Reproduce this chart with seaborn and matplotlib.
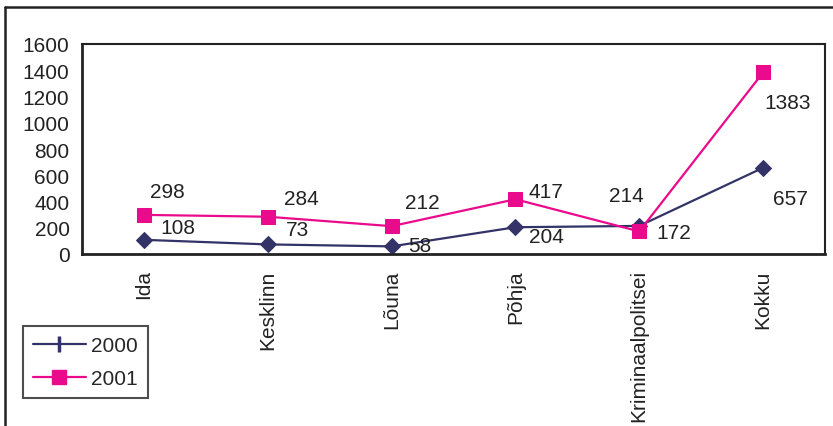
import pandas as pd
import matplotlib.pyplot as plt
import matplotlib.lines as mlines
import seaborn as sns

# Data
categories = ["Ida", "Kesklinn", "Lõuna", "Põhja", "Kriminaalpolitsei", "Kokku"]
values_2000 = [108, 73, 58, 204, 214, 657]
values_2001 = [298, 284, 212, 417, 172, 1383]
y_ticks = [0, 200, 400, 600, 800, 1000, 1200, 1400, 1600]

# label offsets in pixels (dx, dy), y up
offsets_2000 = [(34, 12), (30, 15), (28, 1), (31, -9), (-13, 30), (27, -31)]
offsets_2001 = [(23, 23), (34, 18), (31, 24), (31, 8), (35, -1), (25, -30)]

navy = "#333368"
magenta = "#EA0A8C"
fs = 15

sns.set_style("white")
plt.rcParams["font.family"] = ["Liberation Sans", "DejaVu Sans"]

df = pd.DataFrame({
    "kategooria": categories * 2,
    "vaartus": values_2000 + values_2001,
    "aasta": ["2000"] * len(categories) + ["2001"] * len(categories),
})

fig = plt.figure(figsize=(8.33, 4.27), dpi=100)
ax = fig.add_axes([82 / 833, 1 - 255 / 427, (825 - 82) / 833, (255 - 45) / 427])

sns.lineplot(data=df[df["aasta"] == "2000"], x="kategooria", y="vaartus", ax=ax,
             color=navy, linewidth=1.6, marker="D", markersize=8.5,
             markeredgecolor=navy, sort=False)
sns.lineplot(data=df[df["aasta"] == "2001"], x="kategooria", y="vaartus", ax=ax,
             color=magenta, linewidth=1.6, marker="s", markersize=10.5,
             markeredgecolor=magenta, sort=False)

for i, v in enumerate(values_2000):
    ax.annotate(str(v), (i, v), xytext=offsets_2000[i], textcoords="offset pixels",
                ha="center", va="center", fontsize=fs, color="#222222")
for i, v in enumerate(values_2001):
    ax.annotate(str(v), (i, v), xytext=offsets_2001[i], textcoords="offset pixels",
                ha="center", va="center", fontsize=fs, color="#222222")

ax.set_xlim(-0.5, len(categories) - 0.5)
ax.set_ylim(0, 1600)
ax.set_yticks(y_ticks)
ax.set_yticklabels([str(t) for t in y_ticks], fontsize=fs, color="#222222")
ax.set_xticks(range(len(categories)))
ax.set_xticklabels(categories, rotation=90, fontsize=fs, color="#222222")
ax.set_xticks([i - 0.5 for i in range(len(categories) + 1)], minor=True)
ax.tick_params(axis="x", which="major", length=0, pad=11)
ax.tick_params(axis="x", which="minor", length=6, width=1.5, direction="out", color="#222222")
ax.tick_params(axis="y", length=6, width=1.5, direction="out", color="#222222", pad=3)
ax.set_xlabel("")
ax.set_ylabel("")
for s in ax.spines.values():
    s.set_visible(True)
    s.set_color("#222222")
    s.set_linewidth(1.5)
ax.spines["left"].set_linewidth(2)
ax.spines["bottom"].set_linewidth(2)

# legend
h2000 = mlines.Line2D([], [], color=navy, linewidth=1.6, marker="|", markersize=12,
                      markeredgewidth=2.5)
h2001 = mlines.Line2D([], [], color=magenta, linewidth=1.6, marker="s", markersize=10)
leg = fig.legend([h2000, h2001], ["2000", "2001"], loc="upper left",
                 bbox_to_anchor=(23 / 833, 1 - 327 / 427), fontsize=fs,
                 frameon=True, fancybox=False, handlelength=2.5, handletextpad=0.25,
                 borderpad=0.5, labelspacing=0.65, borderaxespad=0)
leg.get_frame().set_edgecolor("#222222")
leg.get_frame().set_linewidth(1.5)

# outer border (left and top)
fig.add_artist(mlines.Line2D([5 / 833, 5 / 833], [0, 1 - 8 / 427], color="#222222",
                             linewidth=1.8, transform=fig.transFigure))
fig.add_artist(mlines.Line2D([5 / 833, 1], [1 - 8 / 427, 1 - 8 / 427], color="#222222",
                             linewidth=1.8, transform=fig.transFigure))

fig.savefig("out.png", dpi=100)
